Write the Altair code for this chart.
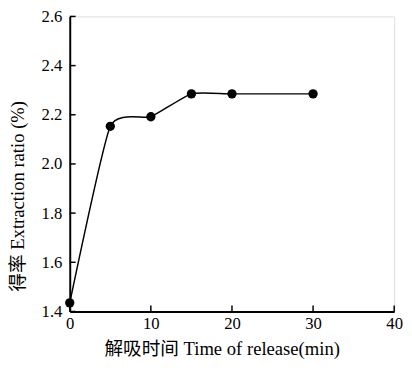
import altair as alt
import pandas as pd

times = [0, 5, 10, 15, 20, 30]
ratios = [1.435, 2.153, 2.192, 2.285, 2.285, 2.285]
y_ticks = [1.4, 1.6, 1.8, 2.0, 2.2, 2.4, 2.6]
x_ticks = [0, 10, 20, 30, 40]

W, H = 331, 301
FONT = "Liberation Serif, Noto Sans CJK SC"

df = pd.DataFrame({"t": times, "r": ratios})
xs = alt.Scale(domain=[0, 40], nice=False)
ys = alt.Scale(domain=[1.4, 2.6], nice=False, zero=False)

x_axis = alt.Axis(values=x_ticks, title="解吸时间 Time of release(min)", tickSize=0,
                  labelPadding=4, labelFontSize=17, labelFont=FONT, labelColor="black",
                  titleFont=FONT, titleFontSize=19, titleFontWeight="normal", titleColor="black",
                  titleX=155, titleY=38, titleBaseline="middle", titleAlign="center",
                  domainColor="black", domainWidth=2, grid=False, labelFlush=False)
y_axis = alt.Axis(values=y_ticks, format=".1f", title="得率 Extraction ratio (%)", tickSize=0,
                  labelPadding=8, labelFontSize=17, labelFont=FONT, labelColor="black",
                  titleFont=FONT, titleFontSize=19, titleFontWeight="normal", titleColor="black",
                  titleX=-53, titleY=183, titleBaseline="middle", titleAlign="center",
                  domainColor="black", domainWidth=2, grid=False, labelFlush=False)

line = alt.Chart(df).mark_line(color="black", strokeWidth=1.5, interpolate="cardinal",
                               tension=0.5).encode(
    x=alt.X("t:Q", scale=xs, axis=x_axis),
    y=alt.Y("r:Q", scale=ys, axis=y_axis),
)
pts = alt.Chart(df).mark_point(filled=True, color="black", size=90, opacity=1).encode(
    x=alt.X("t:Q", scale=xs), y=alt.Y("r:Q", scale=ys)
)
yt = alt.Chart(pd.DataFrame({"v": y_ticks})).mark_rule(color="black", strokeWidth=1.5).encode(
    y=alt.Y("v:Q", scale=ys), x=alt.value(0), x2=alt.value(6)
)
xt = alt.Chart(pd.DataFrame({"v": x_ticks})).mark_rule(color="black", strokeWidth=1.5).encode(
    x=alt.X("v:Q", scale=xs), y=alt.value(H), y2=alt.value(H - 6)
)

chart = alt.layer(line, pts, yt, xt).properties(
    width=W, height=H,
    autosize=alt.AutoSizeParams(type="none"),
    padding={"left": 63, "top": 5, "right": 10, "bottom": 50},
).configure_view(stroke=None).configure(background="white")

chart.save("out.html", embed_options={"renderer": "svg", "actions": False})
